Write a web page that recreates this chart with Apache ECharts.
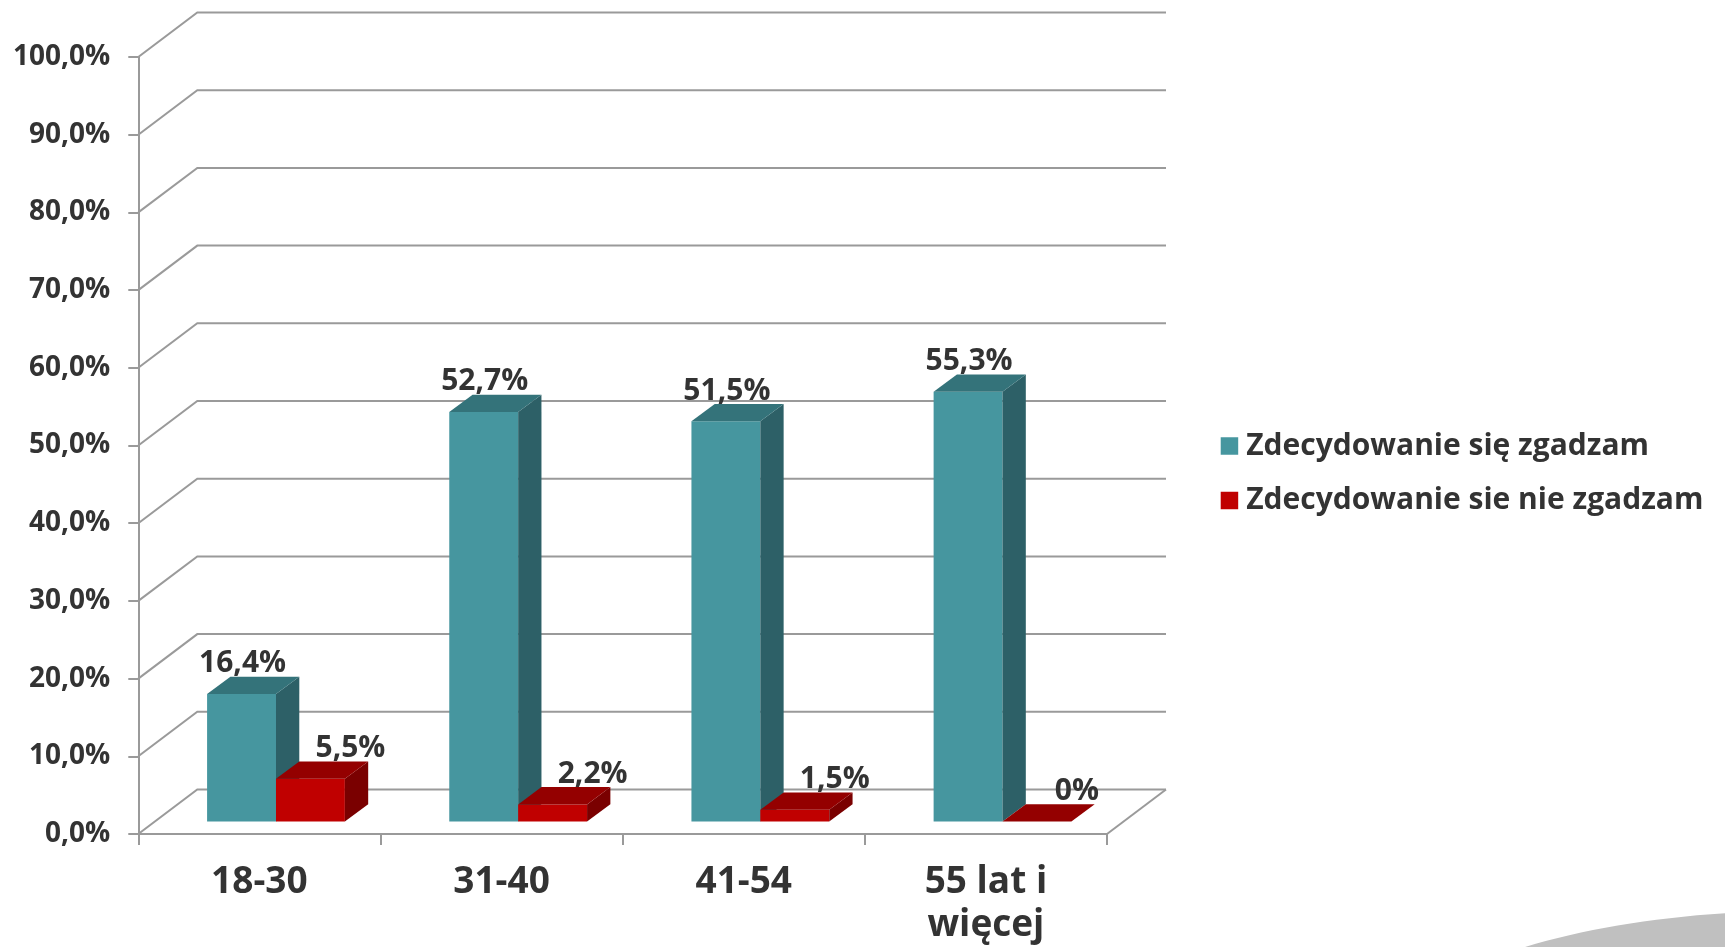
<!DOCTYPE html>
<html><head><meta charset="utf-8">
<script src="https://cdn.jsdelivr.net/npm/echarts@6/dist/echarts.min.js"></script>
<style>html,body{margin:0;padding:0;background:#fff}#c{width:1725px;height:947px}</style>
</head><body><div id="c"></div>
<script>
const categories = ['18-30', '31-40', '41-54', '55 lat i\nwięcej'];
const seriesNames = ['Zdecydowanie się zgadzam', 'Zdecydowanie sie nie zgadzam'];
const agreeValues = [16.4, 52.7, 51.5, 55.3];
const disagreeValues = [5.5, 2.2, 1.5, 0];
const yTicks = [0, 10, 20, 30, 40, 50, 60, 70, 80, 90, 100];

const FONT = '"Open Sans", "Noto Sans", sans-serif';
const TXT = '#333333';
const GRID_COLOR = '#9a9a9a';
const DX = 59, DY = -44.5;      // wall depth (oblique projection)
const BDX = 16.6, BDY = -12.5;  // bar plane offset from front plane
const SDX = 23.3, SDY = -17.3;  // bar depth
const BAR_FRAC = 0.2845;

function fmt(v) { return v === 0 ? '0%' : v.toFixed(1).replace('.', ',') + '%'; }

function wallRender(params, api) {
  const cs = params.coordSys;
  const v = api.value(1);
  const y = api.coord([0, v])[1];
  const l = cs.x, r = cs.x + cs.width;
  const children = [{
    type: 'polyline',
    shape: { points: [[l, y], [l + DX, y + DY], [r + DX, y + DY]] },
    style: { stroke: GRID_COLOR, lineWidth: 2, fill: null }
  }];
  if (v === 0) {
    children.push({ type: 'line', shape: { x1: r, y1: y, x2: r + DX, y2: y + DY },
      style: { stroke: GRID_COLOR, lineWidth: 2 } });
  }
  return { type: 'group', children: children };
}

function barRender(side, colors, labelDx) {
  return function (params, api) {
    const idx = api.value(0), v = api.value(1);
    const top = api.coord([idx, v]);
    const base = api.coord([idx, 0]);
    const w = api.size([1, 0])[0] * BAR_FRAC;
    const cx = base[0] + BDX;
    const x0 = side === 0 ? cx - w : cx;
    const x1 = x0 + w;
    const yb = base[1] + BDY, yt = top[1] + BDY;
    const children = [];
    if (yb - yt > 0.1) {
      children.push({ type: 'polygon', shape: { points: [[x0, yt], [x1, yt], [x1, yb], [x0, yb]] },
        style: { fill: colors[0] } });
      children.push({ type: 'polygon', shape: { points: [[x1, yt], [x1 + SDX, yt + SDY], [x1 + SDX, yb + SDY], [x1, yb]] },
        style: { fill: colors[2] } });
    }
    children.push({ type: 'polygon', shape: { points: [[x0, yt], [x0 + SDX, yt + SDY], [x1 + SDX, yt + SDY], [x1, yt]] },
      style: { fill: colors[1] } });
    children.push({ type: 'text', style: {
      text: fmt(v), x: (x0 + x1) / 2 + labelDx, y: yt + SDY - 13,
      align: 'center', verticalAlign: 'middle',
      font: 'bold 30px ' + FONT, fill: TXT } });
    return { type: 'group', children: children };
  };
}

const chart = echarts.init(document.getElementById('c'));
chart.setOption({
  animation: false,
  backgroundColor: '#ffffff',
  grid: { left: 138.3, right: 618, top: 57, bottom: 109.5, containLabel: false },
  xAxis: {
    type: 'category', data: categories, boundaryGap: true,
    axisLine: { show: true, lineStyle: { color: GRID_COLOR, width: 2 } },
    axisTick: { show: true, length: 11, interval: 0, lineStyle: { color: GRID_COLOR, width: 2 } },
    axisLabel: { interval: 0, margin: 27, fontFamily: FONT, fontWeight: 'bold', fontSize: 37,
      lineHeight: 43, color: TXT },
    splitLine: { show: false }
  },
  yAxis: {
    type: 'value', min: 0, max: 100, interval: 10,
    axisLine: { show: true, lineStyle: { color: GRID_COLOR, width: 2 } },
    axisTick: { show: true, length: 10, lineStyle: { color: GRID_COLOR, width: 2 } },
    axisLabel: { margin: 28, fontFamily: FONT, fontWeight: 'bold', fontSize: 28, color: TXT,
      formatter: function (v) { return v.toFixed(1).replace('.', ',') + '%'; } },
    splitLine: { show: false }
  },
  legend: {
    orient: 'vertical', left: 1220.7, top: 431, padding: 0, itemWidth: 17.5, itemHeight: 17.5, itemGap: 24.5,
    icon: 'rect', selectedMode: false, data: seriesNames,
    textStyle: { fontFamily: FONT, fontWeight: 'bold', fontSize: 30, color: TXT, padding: [0, 0, 0, 3] }
  },
  graphic: [{
    type: 'ellipse', silent: true, z: -10,
    shape: { cx: 1800, cy: 1061, rx: 423, ry: 150 },
    style: { fill: '#c0c0c0' }
  }],
  series: [
    { type: 'custom', name: 'walls', renderItem: wallRender, clip: false, z: 1, silent: true,
      data: yTicks.map(function (t) { return [0, t]; }), encode: { x: 0, y: 1 } },
    { type: 'custom', name: seriesNames[0], clip: false, z: 2,
      itemStyle: { color: '#46969F' },
      renderItem: barRender(0, ['#46969F', '#34737A', '#2D6067'], 1),
      data: agreeValues.map(function (v, i) { return [i, v]; }), encode: { x: 0, y: 1 } },
    { type: 'custom', name: seriesNames[1], clip: false, z: 3,
      itemStyle: { color: '#C00000' },
      renderItem: barRender(1, ['#C00000', '#940000', '#7A0000'], 40),
      data: disagreeValues.map(function (v, i) { return [i, v]; }), encode: { x: 0, y: 1 } }
  ]
});
</script>
</body></html>
